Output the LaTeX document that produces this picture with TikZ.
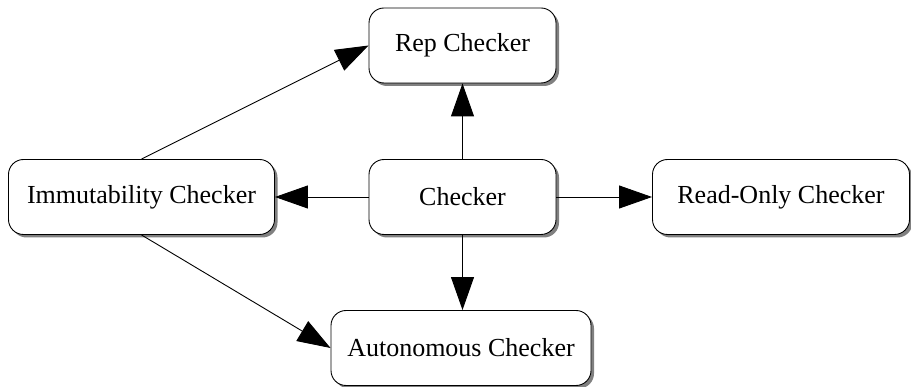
\documentclass[tikz,border=0pt]{standalone}
\usepackage{fontspec}
\setmainfont{Liberation Serif}
\usetikzlibrary{arrows.meta,shadows}

\begin{document}
\begin{tikzpicture}[x=1pt,y=-1pt,
  box/.style={draw, line width=0.9pt, fill=white, rounded corners=15pt,
    minimum height=75pt, inner sep=0pt,
    font=\fontsize{26}{30}\selectfont,
    drop shadow={shadow xshift=3pt, shadow yshift=-3pt, fill=black!50, opacity=1}},
  link/.style={line width=0.9pt, -{Triangle[length=33pt,width=23pt]}}]
  \useasboundingbox (0,0) rectangle (911,387);

  \node[box, minimum width=187pt] (rep) at (462.5,45.5) {Rep Checker};
  \node[box, minimum width=266pt] (imm) at (141.5,197) {Immutability Checker};
  \node[box, minimum width=187pt] (chk) at (462.5,197) {Checker};
  \node[box, minimum width=257pt] (ro)  at (781,197)   {Read-Only Checker};
  \node[box, minimum width=260pt] (aut) at (461,348)   {Autonomous Checker};

  \draw[link] (chk) -- (rep);
  \draw[link] (chk) -- (imm);
  \draw[link] (chk) -- (ro);
  \draw[link] (chk.south) -- (chk.south |- aut.north);
  \draw[link] (imm.north) -- (rep.west);
  \draw[link] (imm.south) -- (aut.west);
\end{tikzpicture}
\end{document}
